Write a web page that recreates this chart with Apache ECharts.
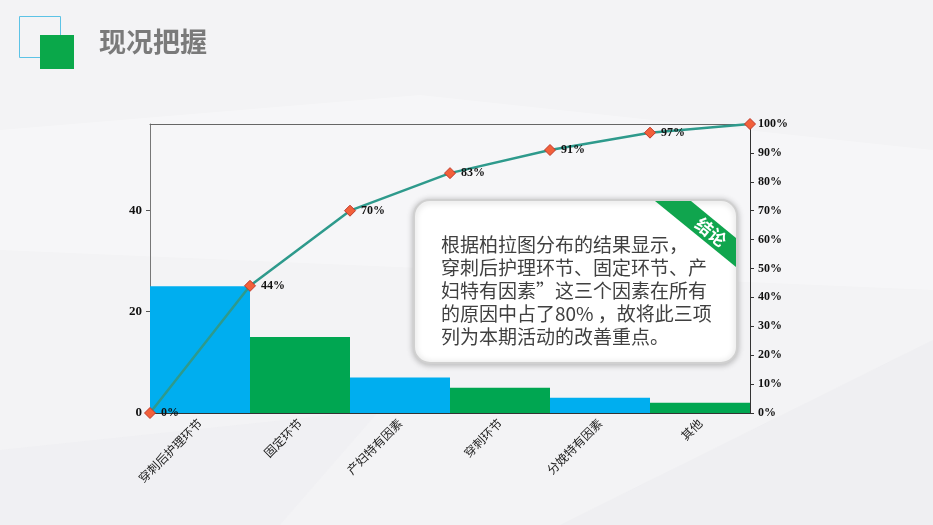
<!DOCTYPE html>
<html>
<head>
<meta charset="utf-8">
<script src="https://cdn.jsdelivr.net/npm/echarts@6/dist/echarts.min.js"></script>
<style>
html,body{margin:0;padding:0;background:#f3f3f5;}
#main{width:933px;height:525px;}
</style>
</head>
<body>
<div id="main"></div>
<script>
// 柏拉图数据
var categories = ['穿刺后护理环节', '固定环节', '产妇特有因素', '穿刺环节', '分娩特有因素', '其他'];
var counts = [25, 15, 7, 5, 3, 2];
var cumPercent = [0, 44, 70, 83, 91, 97, 100];
var totalCount = 57;
var noteLines = [
  '根据柏拉图分布的结果显示，',
  '穿刺后护理环节、固定环节、产',
  '妇特有因素”这三个因素在所有',
  '的原因中占了80% ，故将此三项',
  '列为本期活动的改善重点。'
];

var dom = document.getElementById('main');
var myChart = echarts.init(dom);
var option = null;

var lineData = cumPercent.map(function (v, i) { return [i, v]; });
var serifBold = { fontFamily: 'Liberation Serif', fontWeight: 'bold', fontSize: 12, color: '#111' };

option = {
    backgroundColor: '#f3f3f5',
    animation: false,
    grid: { left: 150, right: 183, top: 124, bottom: 112 },
    graphic: [
        // 背景浅色多边形
        { type: 'polygon', z: -10, shape: { points: [[0, 130], [420, 95], [933, 150], [933, 290], [0, 250]] }, style: { fill: 'rgba(255,255,255,0.3)' } },
        { type: 'polygon', z: -10, shape: { points: [[560, 525], [933, 340], [933, 525]] }, style: { fill: 'rgba(236,236,239,0.5)' } },
        { type: 'polygon', z: -10, shape: { points: [[0, 450], [380, 410], [280, 525], [0, 525]] }, style: { fill: 'rgba(238,238,241,0.5)' } },
        // 标题图标
        { type: 'rect', shape: { x: 19.5, y: 16.5, width: 41, height: 41 }, style: { fill: 'none', stroke: '#5cc3e6', lineWidth: 1 } },
        { type: 'rect', shape: { x: 40, y: 35, width: 34, height: 34 }, style: { fill: '#0aa84a' } },
        { type: 'text', left: 99, top: 28, style: { text: '现况把握', fontSize: 27, fontWeight: 'bold', fill: '#7a7a7a', fontFamily: 'Noto Sans CJK SC' } },
        // 结论框
        {
            type: 'group', z: 100,
            children: [
                { type: 'rect', shape: { x: 414, y: 200, width: 323, height: 163, r: 16 },
                  style: { fill: '#ffffff', stroke: '#d0d0d0', lineWidth: 2, shadowBlur: 6, shadowColor: 'rgba(0,0,0,0.25)', shadowOffsetY: 1 } },
                { type: 'polygon', shape: { points: [[655, 201], [691, 201], [736, 238], [736, 267]] }, style: { fill: '#10a54e' } },
                { type: 'text', x: 711, y: 232, rotation: -0.69, style: { text: '结论', fontSize: 17, fontWeight: 'bold', fill: '#ffffff', align: 'center', verticalAlign: 'middle', fontFamily: 'Noto Sans CJK SC' } },
                { type: 'text', x: 441, y: 233, style: { text: noteLines.join('\n'), fontSize: 19, lineHeight: 23, fill: '#404040', fontFamily: 'Noto Sans CJK SC' } }
            ]
        }
    ],
    xAxis: [
        {
            type: 'category',
            data: categories,
            axisLine: { lineStyle: { color: '#333', width: 1 } },
            axisTick: { show: false },
            axisLabel: { interval: 0, rotate: 45, fontSize: 12, color: '#222', fontFamily: 'Noto Sans CJK SC', margin: 8 }
        },
        {
            type: 'value',
            min: 0,
            max: 6,
            position: 'top',
            axisLine: { show: true, onZero: false, lineStyle: { color: '#666' } },
            axisTick: { show: false },
            axisLabel: { show: false },
            splitLine: { show: false }
        }
    ],
    yAxis: [
        {
            type: 'value',
            min: 0,
            max: totalCount,
            interval: 20,
            axisLine: { show: true, lineStyle: { color: '#777' } },
            axisTick: { show: true, length: 4, lineStyle: { color: '#555' } },
            axisLabel: { showMaxLabel: false, margin: 8, fontFamily: 'Liberation Serif', fontWeight: 'bold', fontSize: 13, color: '#111' },
            splitLine: { show: false }
        },
        {
            type: 'value',
            min: 0,
            max: 100,
            interval: 10,
            position: 'right',
            axisLine: { show: true, lineStyle: { color: '#333' } },
            axisTick: { show: true, length: 4, lineStyle: { color: '#333' } },
            axisLabel: { formatter: '{value}%', margin: 8, fontFamily: 'Liberation Serif', fontWeight: 'bold', fontSize: 12, color: '#111' },
            splitLine: { show: false }
        }
    ],
    series: [
        {
            name: '频数',
            type: 'bar',
            xAxisIndex: 0,
            yAxisIndex: 0,
            barCategoryGap: 0,
            data: counts,
            itemStyle: {
                color: function (p) { return p.dataIndex % 2 ? '#00a651' : '#00aeef'; }
            }
        },
        {
            name: '累计百分比',
            type: 'line',
            xAxisIndex: 1,
            yAxisIndex: 1,
            data: lineData,
            symbol: 'diamond',
            symbolSize: 11,
            lineStyle: { color: '#2e9a8c', width: 2.5 },
            itemStyle: { color: '#f2603a', borderColor: '#c0392b', borderWidth: 1 },
            label: {
                show: true,
                position: 'right',
                distance: 5,
                formatter: function (p) {
                    // 最后一点与右轴 100% 重合，不重复标注
                    return p.dataIndex === cumPercent.length - 1 ? '' : p.value[1] + '%';
                },
                fontFamily: serifBold.fontFamily,
                fontWeight: serifBold.fontWeight,
                fontSize: serifBold.fontSize,
                color: serifBold.color
            },
            z: 5
        }
    ]
};

if (option && typeof option === 'object') {
    myChart.setOption(option, true);
}
</script>
</body>
</html>
